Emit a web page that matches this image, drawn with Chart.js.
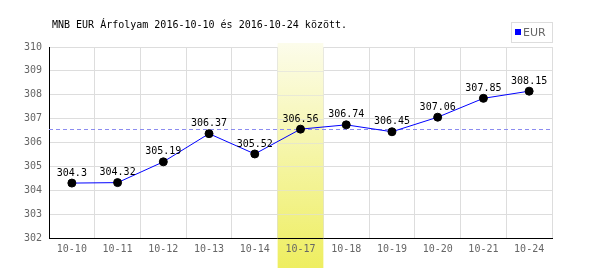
<!DOCTYPE html>
<html><head><meta charset="utf-8">
<script src="https://cdn.jsdelivr.net/npm/chart.js@4/dist/chart.umd.min.js"></script>
<style>html,body{margin:0;padding:0;background:#fff}#wrap{width:600px;height:270px;position:relative}</style>
</head><body><div id="wrap"><canvas id="c" width="600" height="270"></canvas></div>
<script>
const titleText = "MNB EUR Árfolyam 2016-10-10 és 2016-10-24 között.";
const seriesName = "EUR";
const categories = ["10-10","10-11","10-12","10-13","10-14","10-17","10-18","10-19","10-20","10-21","10-24"];
const rates = [304.3,304.32,305.19,306.37,305.52,306.56,306.74,306.45,307.06,307.85,308.15];
const rateLabels = ["304.3","304.32","305.19","306.37","305.52","306.56","306.74","306.45","307.06","307.85","308.15"];
const highlightCategory = "10-17";
const referenceValue = 306.56;
const yMin = 302, yMax = 310;

const extras = {
  id: 'extras',
  beforeDatasetsDraw(chart) {
    const {ctx, chartArea, scales:{x, y}} = chart;
    const i = categories.indexOf(highlightCategory);
    const half = (x.getPixelForValue(1) - x.getPixelForValue(0)) / 2;
    const cx = x.getPixelForValue(i);
    const top = chartArea.top - 4, bottom = chart.height - 2;
    const g = ctx.createLinearGradient(0, top, 0, bottom);
    g.addColorStop(0, 'rgba(252,252,235,1)');
    g.addColorStop(1, 'rgba(238,238,96,1)');
    ctx.save();
    ctx.fillStyle = g;
    ctx.fillRect(cx - half, top, half * 2, bottom - top);
    ctx.strokeStyle = 'rgba(221,221,221,0.6)';
    ctx.lineWidth = 1;
    for (let v = yMin + 1; v < yMax; v++) {
      const py = Math.round(y.getPixelForValue(v)) + 0.5;
      ctx.beginPath(); ctx.moveTo(cx - half, py); ctx.lineTo(cx + half, py); ctx.stroke();
    }
    ctx.strokeStyle = '#000';
    const by = Math.round(y.getPixelForValue(yMin)) + 0.5;
    ctx.beginPath(); ctx.moveTo(cx - half, by); ctx.lineTo(cx + half, by); ctx.stroke();
    ctx.fillStyle = '#666';
    ctx.font = '10px "DejaVu Sans Mono"';
    ctx.textAlign = 'center'; ctx.textBaseline = 'middle';
    ctx.fillText(categories[i], cx, by + 11);
    const ry = Math.round(y.getPixelForValue(referenceValue)) + 0.5;
    ctx.strokeStyle = '#8c8cf0';
    ctx.setLineDash([4, 3]);
    ctx.beginPath(); ctx.moveTo(chartArea.left, ry); ctx.lineTo(chartArea.right, ry); ctx.stroke();
    ctx.restore();
  },
  afterDatasetsDraw(chart) {
    const {ctx} = chart;
    const meta = chart.getDatasetMeta(0);
    ctx.save();
    ctx.fillStyle = '#000';
    ctx.font = '10px "DejaVu Sans Mono"';
    ctx.textAlign = 'center'; ctx.textBaseline = 'bottom';
    meta.data.forEach((pt, k) => ctx.fillText(rateLabels[k], pt.x, pt.y - 5));
    ctx.font = '10px "DejaVu Sans Mono"';
    ctx.textAlign = 'left'; ctx.textBaseline = 'middle';
    ctx.fillText(titleText, 52, 25);
    ctx.strokeStyle = '#ddd'; ctx.lineWidth = 1;
    ctx.strokeRect(511.5, 22.5, 41, 20);
    ctx.fillStyle = '#0000ff';
    ctx.fillRect(515, 29, 6, 6);
    ctx.fillStyle = '#666';
    ctx.font = '11px "DejaVu Sans"';
    ctx.fillText(seriesName, 523, 33);
    ctx.restore();
  }
};

new Chart(document.getElementById('c'), {
  type: 'line',
  data: {
    labels: categories,
    datasets: [{
      label: seriesName,
      data: rates,
      borderColor: '#0000ff',
      borderWidth: 1,
      pointBackgroundColor: '#000',
      pointBorderColor: '#000',
      pointRadius: 4,
      tension: 0
    }]
  },
  options: {
    responsive: false,
    animation: false,
    layout: { padding: { top: 47, right: 48, left: 0, bottom: 0 } },
    plugins: { legend: { display: false }, tooltip: { enabled: false } },
    scales: {
      x: {
        offset: true,
        grid: { offset: true, color: '#ddd', drawTicks: false },
        border: { color: '#000', width: 1 },
        ticks: { color: '#666', font: { family: 'DejaVu Sans Mono', size: 10 }, padding: 5, maxRotation: 0, autoSkip: false },
        afterFit(s) { s.height = 32; }
      },
      y: {
        min: yMin, max: yMax,
        grid: { color: '#ddd', drawTicks: false },
        border: { color: '#000', width: 1 },
        ticks: { stepSize: 1, color: '#666', font: { family: 'DejaVu Sans Mono', size: 10 }, padding: 7 },
        afterFit(s) { s.width = 49; }
      }
    }
  },
  plugins: [extras]
});
</script></body></html>
